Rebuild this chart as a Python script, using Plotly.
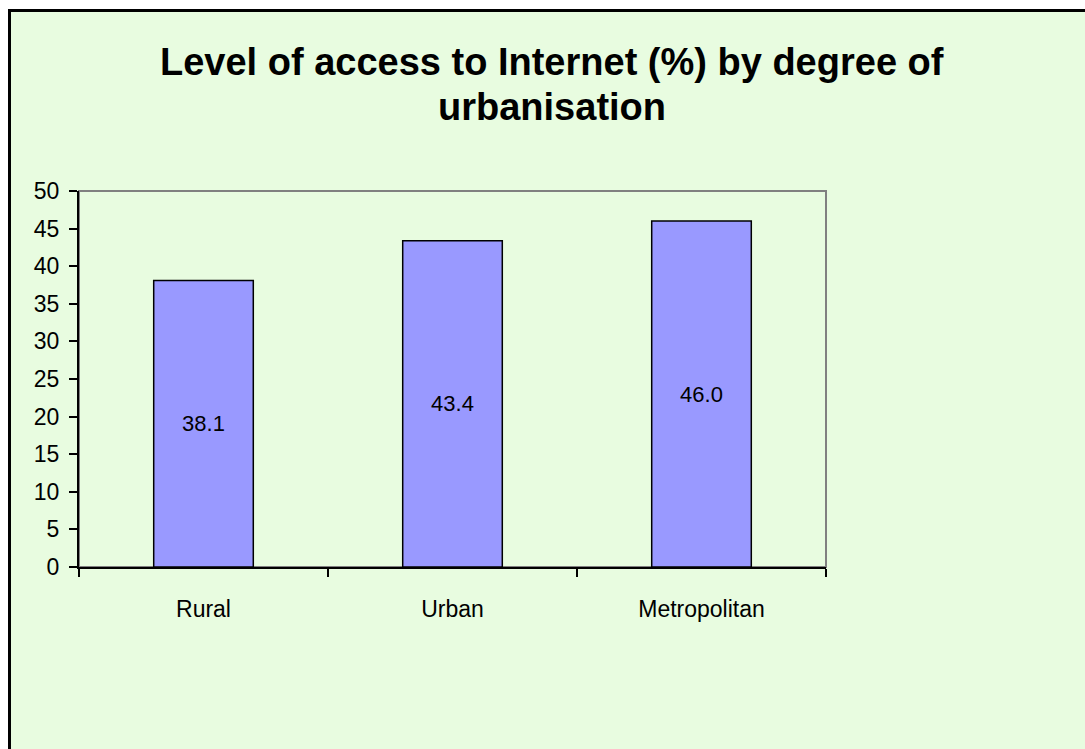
import plotly.graph_objects as go

# Internet access by degree of urbanisation
categories = ["Rural", "Urban", "Metropolitan"]
access_pct = [38.1, 43.4, 46.0]
y_ticks = [0, 5, 10, 15, 20, 25, 30, 35, 40, 45, 50]
title_lines = ["Level of access to Internet (%) by degree of", "urbanisation"]

W, H = 1085, 749
L, R, T, B = 79, 826, 191, 567  # plot area in pixels
pw, ph = R - L, B - T


def px(x):
    return (x - L) / pw


def py(y):
    return (B - y) / ph


FONT = "Liberation Sans, Arial, sans-serif"
BG = "#E8FCE0"

fig = go.Figure(
    go.Bar(
        x=categories,
        y=access_pct,
        width=0.4,
        marker=dict(color="#9999FF", line=dict(color="black", width=1.5)),
        text=[f"{v:.1f}" for v in access_pct],
        textposition="inside",
        insidetextanchor="middle",
        textangle=0,
        textfont=dict(family=FONT, size=22, color="black"),
        hoverinfo="skip",
    )
)

shapes = [
    # outer chart frame
    dict(type="rect", xref="paper", yref="paper",
         x0=px(9.5), x1=px(1110), y0=py(10.5), y1=py(770),
         line=dict(color="black", width=3), fillcolor=BG, layer="below"),
    # plot area border (top/right in grey)
    dict(type="rect", xref="paper", yref="paper",
         x0=0, x1=1, y0=0, y1=1,
         line=dict(color="#808080", width=2), fillcolor=BG, layer="below"),
]

annotations = [
    dict(text=f"<b>{title_lines[0]}</b>", xref="paper", yref="paper",
         x=px(552), y=py(62), xanchor="center", yanchor="middle",
         showarrow=False, font=dict(family=FONT, size=38, color="black")),
    dict(text=f"<b>{title_lines[1]}</b>", xref="paper", yref="paper",
         x=px(552), y=py(107), xanchor="center", yanchor="middle",
         showarrow=False, font=dict(family=FONT, size=38, color="black")),
]

fig.update_layout(
    width=W, height=H,
    margin=dict(l=L, r=W - R, t=T, b=H - B, pad=0),
    paper_bgcolor="white",
    plot_bgcolor="rgba(0,0,0,0)",
    showlegend=False,
    shapes=shapes,
    annotations=annotations,
    font=dict(family=FONT, color="black"),
    xaxis=dict(
        type="category",
        tickson="boundaries",
        ticks="outside", ticklen=8, tickwidth=2, tickcolor="black",
        showline=True, linecolor="black", linewidth=2,
        showgrid=False, zeroline=False,
        tickfont=dict(family=FONT, size=23, color="black"),
        ticklabelstandoff=20,
    ),
    yaxis=dict(
        range=[0, 50],
        tickvals=y_ticks,
        ticks="outside", ticklen=8, tickwidth=2, tickcolor="black",
        showline=True, linecolor="black", linewidth=2,
        showgrid=False, zeroline=False,
        tickfont=dict(family=FONT, size=23, color="black"),
        ticklabelstandoff=5,
    ),
)

fig.write_html("out.html")
